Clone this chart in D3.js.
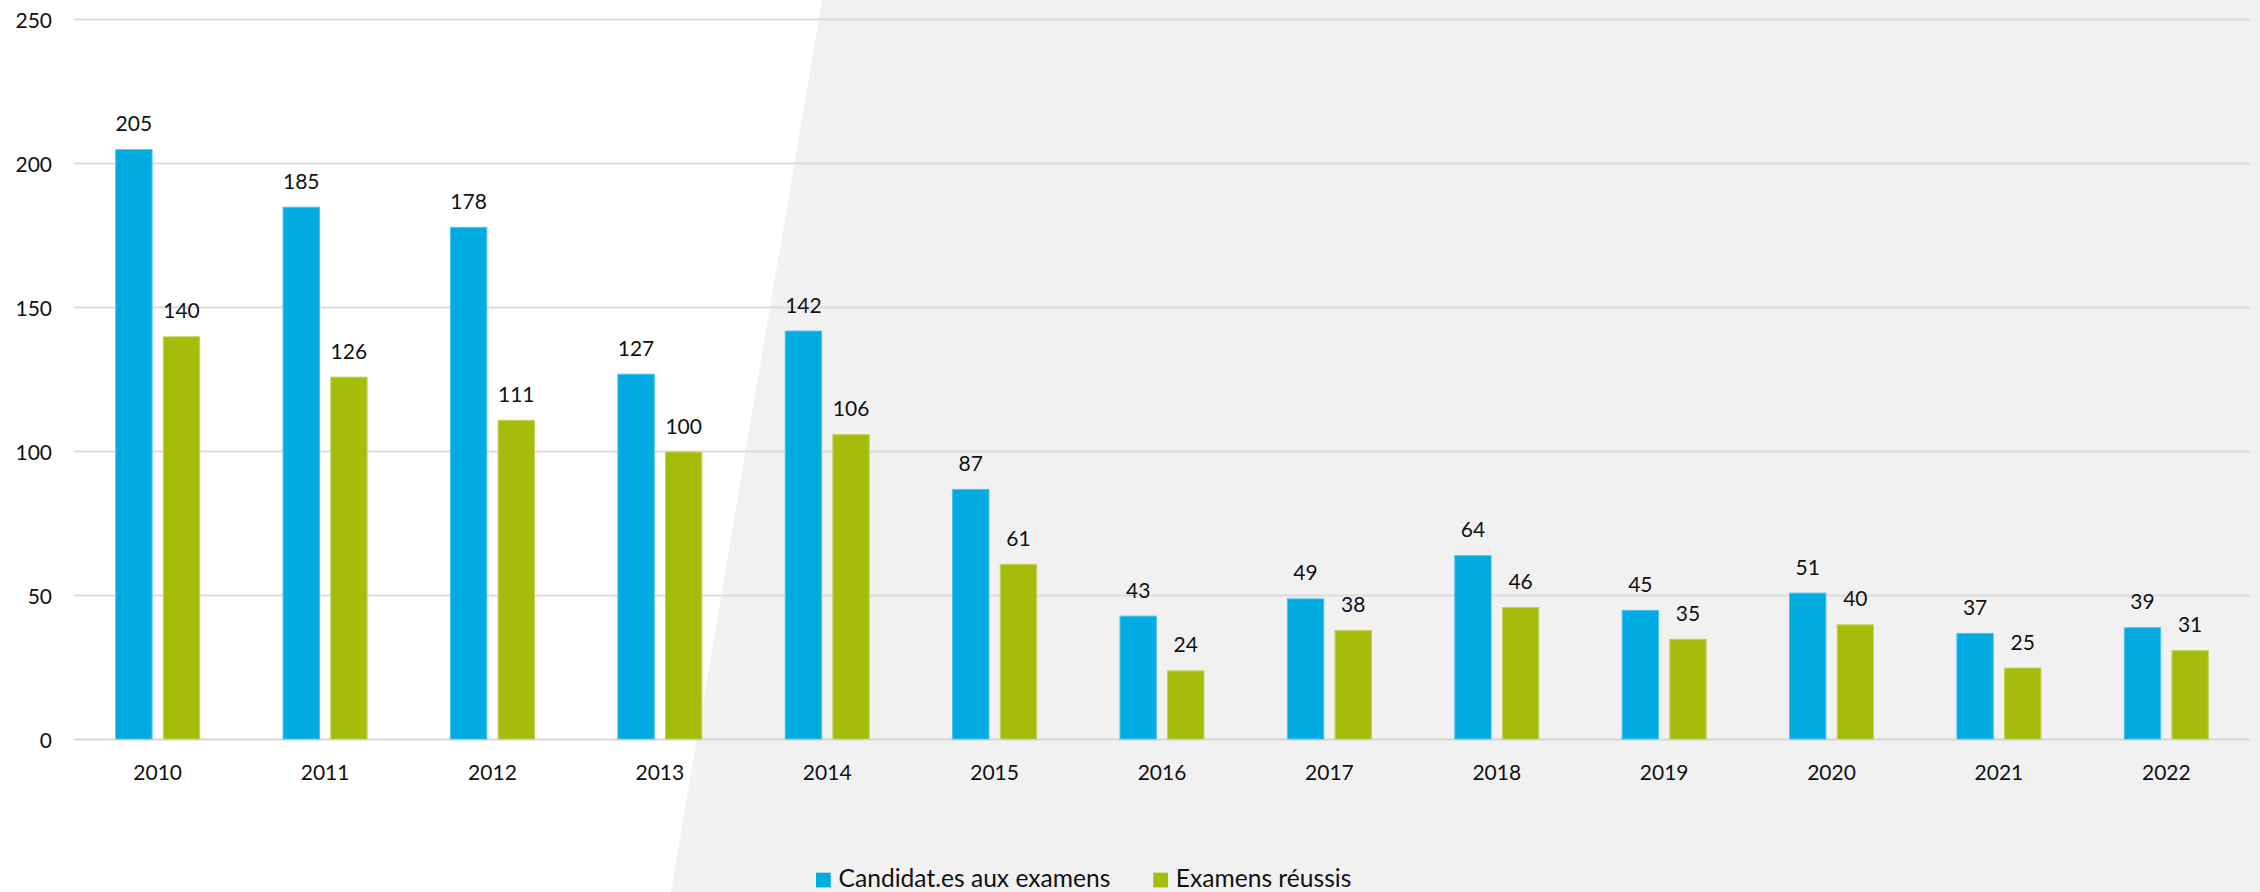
<!DOCTYPE html>
<html><head><meta charset="utf-8">
<script src="https://cdn.jsdelivr.net/npm/d3@7"></script>
<style>
html,body{margin:0;padding:0;background:#fff;}
svg{display:block;font-family:"Lato","Open Sans",sans-serif;}
</style></head>
<body>
<svg id="chart" width="2260" height="892"></svg>
<script>
const years = ["2010","2011","2012","2013","2014","2015","2016","2017","2018","2019","2020","2021","2022"];
const candidats = [205,185,178,127,142,87,43,49,64,45,51,37,39];
const reussis = [140,126,111,100,106,61,24,38,46,35,40,25,31];
const seriesNames = ["Candidat.es aux examens","Examens réussis"];
const seriesColors = ["#00abe1","#a5bc0b"];
const seriesEdge = ["#4cc3ea","#c2d35a"];
const yTicks = [0,50,100,150,200,250];

(function(){
const W = 2260, H = 892;
const svg = d3.select("#chart");
const pLeft = 74, pRight = 2250, pTop = 19.5, pBottom = 739.5;
const fontSize = 21;
const legendFont = 24.6;

svg.append("rect").attr("width",W).attr("height",H).attr("fill","#ffffff");
svg.append("path")
  .attr("d", d3.line()([[822,0],[W,0],[W,H],[671,H]]) + "Z")
  .attr("fill","#f1f1f1");

const y = d3.scaleLinear().domain([0,250]).range([pBottom, pTop]);
const x0 = d3.scaleBand().domain(years).range([pLeft, pRight]).paddingInner(0).paddingOuter(0);
const groupW = 85;
const x1 = d3.scaleBand().domain([0,1])
  .range([(x0.bandwidth()-groupW)/2, (x0.bandwidth()+groupW)/2])
  .paddingInner(0.216).paddingOuter(0);

svg.append("g").selectAll("line").data(yTicks).join("line")
  .attr("x1", pLeft).attr("x2", pRight)
  .attr("y1", d => y(d)).attr("y2", d => y(d))
  .attr("stroke", d => d === 0 ? "#d6d6d6" : "#dcdcdc")
  .attr("stroke-width", 2);

const yAxis = d3.axisLeft(y).tickValues(yTicks).tickSize(0).tickPadding(0);
const yg = svg.append("g").attr("transform", `translate(52,0)`).call(yAxis);
yg.select(".domain").remove();
yg.selectAll("text").attr("font-size", fontSize).attr("font-family","Lato, 'Open Sans', sans-serif").attr("fill","#111").attr("dy","0.36em");

const xAxis = d3.axisBottom(x0).tickSize(0).tickPadding(0);
const xg = svg.append("g").attr("transform", `translate(0,${pBottom})`).call(xAxis);
xg.select(".domain").remove();
xg.selectAll("text").attr("font-size", fontSize).attr("font-family","Lato, 'Open Sans', sans-serif").attr("fill","#111").attr("dy", null).attr("y", 40);

const data = years.map((yr,i) => ({year: yr, vals: [candidats[i], reussis[i]]}));

const groups = svg.append("g").selectAll("g").data(data).join("g")
  .attr("transform", d => `translate(${x0(d.year)},0)`);

groups.selectAll("rect").data(d => d.vals.map((v,k)=>({v,k}))).join("rect")
  .attr("x", d => x1(d.k) + 0.5)
  .attr("width", x1.bandwidth() - 1)
  .attr("y", d => y(d.v) + 0.5)
  .attr("height", d => y(0) - y(d.v) - 1)
  .attr("fill", d => seriesColors[d.k])
  .attr("stroke", d => seriesEdge[d.k])
  .attr("stroke-width", 1);

groups.selectAll("text.val").data(d => d.vals.map((v,k)=>({v,k}))).join("text")
  .attr("class","val")
  .attr("x", d => x1(d.k) + x1.bandwidth()/2)
  .attr("y", d => y(d.v) - 18)
  .attr("text-anchor","middle")
  .attr("font-size", fontSize)
  .attr("fill","#111")
  .text(d => d.v);

const legend = svg.append("g");
const legendX = [816, 1153.3];
seriesNames.forEach((name,k) => {
  const g = legend.append("g").attr("transform", `translate(${legendX[k]},0)`);
  g.append("rect").attr("x",0).attr("y",872.7).attr("width",14.7).attr("height",14.7).attr("fill",seriesColors[k]);
  g.append("text").attr("x",22.5).attr("y",887.3).attr("font-size",legendFont).attr("fill","#111").text(name);
});
})();
</script>
</body></html>
